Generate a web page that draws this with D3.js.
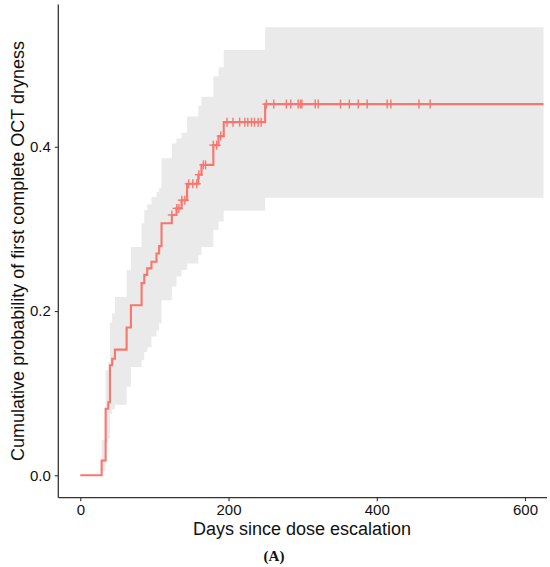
<!DOCTYPE html>
<html>
<head>
<meta charset="utf-8">
<script src="https://cdn.jsdelivr.net/npm/d3@7"></script>
<style>
  html, body { margin: 0; padding: 0; background: #ffffff; }
  svg { display: block; }
</style>
</head>
<body>
<div id="chart"></div>
<script>
// ---- data ----
const stepDays = [0, 28.8, 34.2, 37.7, 40, 43, 46.7, 62.5, 68.3, 82.7, 86.3, 90.3, 96, 102.8, 106.4,
                  109.6, 123.5, 129.8, 136.6, 144.1, 159.2, 163.5, 179.5, 186.5, 193.5, 249.4];
const cumProb  = [0, 0.018, 0.081, 0.089, 0.134, 0.142, 0.153, 0.180, 0.207, 0.234, 0.244, 0.252, 0.260, 0.270, 0.279,
                  0.307, 0.317, 0.325, 0.335, 0.355, 0.366, 0.378, 0.402, 0.413, 0.430, 0.452];
const lowerCI  = [0, 0.005, 0.040, 0.045, 0.075, 0.080, 0.086, 0.108, 0.132, 0.140, 0.150, 0.156, 0.169, 0.176, 0.185,
                  0.213, 0.230, 0.242, 0.250, 0.258, 0.268, 0.278, 0.299, 0.309, 0.322, 0.338];
const upperCI  = [0, 0.043, 0.128, 0.138, 0.186, 0.197, 0.217, 0.250, 0.278, 0.307, 0.323, 0.330, 0.339, 0.345, 0.350,
                  0.386, 0.404, 0.410, 0.417, 0.437, 0.450, 0.461, 0.486, 0.497, 0.518, 0.5455];
const censorDays = [123.5, 130, 133, 137, 141, 146.4, 151.8, 157.2, 160, 166, 169, 179.5, 184, 189.5,
                    198, 206, 215, 222, 226, 231, 235, 240, 244,
                    251, 261, 278, 284, 294, 297, 299, 317, 321, 351, 363, 375, 387, 414, 419, 457, 472];
const endDay = 625;
const xTicks = [0, 200, 400, 600];
const yTicks = [0, 0.2, 0.4];
const xTitle = "Days since dose escalation";
const yTitle = "Cumulative probability of first complete OCT dryness";
const caption = "(A)";

// ---- layout ----
const W = 550, H = 567;
const lineColor = "#F8766D";
const axisColor = "#333333";

const x = d3.scaleLinear().domain([0, 600]).range([80.3, 525]);
const y = d3.scaleLinear().domain([0, 0.4]).range([475.3, 146.8]);

const panelLeft = 58.3, panelRight = 547, panelTop = 4.5, panelBottom = 497.7;

const svg = d3.select("#chart").append("svg")
  .attr("width", W).attr("height", H)
  .style("font-family", "'Liberation Sans', Arial, sans-serif");

// step table
const rows = stepDays.map((d, i) => ({ t: d, s: cumProb[i], lo: lowerCI[i], hi: upperCI[i] }));
const last = rows[rows.length - 1];
const rowsEnd = rows.concat([{ t: endDay, s: last.s, lo: last.lo, hi: last.hi }]);

// confidence band
const area = d3.area()
  .curve(d3.curveStepAfter)
  .x(d => x(d.t))
  .y0(d => y(d.lo))
  .y1(d => y(d.hi));
svg.append("path")
  .datum(rowsEnd.slice(1))
  .attr("d", area)
  .attr("fill", "#EAEAEA")
  .attr("stroke", "none");

// KM line
const line = d3.line()
  .curve(d3.curveStepAfter)
  .x(d => x(d.t))
  .y(d => y(d.s));
svg.append("path")
  .datum(rowsEnd)
  .attr("d", line)
  .attr("fill", "none")
  .attr("stroke", lineColor)
  .attr("stroke-width", 2.1);

// censor marks
function survAt(t) {
  let v = 0;
  for (const r of rows) { if (r.t <= t) v = r.s; }
  return v;
}
const cg = svg.append("g").attr("stroke", lineColor).attr("stroke-width", 1.4);
censorDays.forEach(t => {
  const cx = x(t), cy = y(survAt(t));
  cg.append("line").attr("x1", cx - 4).attr("x2", cx + 4).attr("y1", cy).attr("y2", cy);
  cg.append("line").attr("x1", cx).attr("x2", cx).attr("y1", cy - 4.5).attr("y2", cy + 4.5);
});

// axes
const xAxis = svg.append("g")
  .attr("transform", `translate(0,${panelBottom})`)
  .call(d3.axisBottom(x).tickValues(xTicks).tickSize(3.5).tickPadding(3).tickFormat(d3.format("d")));
xAxis.select(".domain").remove();
xAxis.selectAll(".tick line").attr("stroke", axisColor).attr("stroke-width", 1.1);
xAxis.selectAll(".tick text").attr("fill", "#111").style("font-size", "15px")
  .style("font-family", "'Liberation Sans', Arial, sans-serif");

const yAxis = svg.append("g")
  .attr("transform", `translate(${panelLeft},0)`)
  .call(d3.axisLeft(y).tickValues(yTicks).tickSize(3.5).tickPadding(4).tickFormat(d3.format(".1f")));
yAxis.select(".domain").remove();
yAxis.selectAll(".tick line").attr("stroke", axisColor).attr("stroke-width", 1.1);
yAxis.selectAll(".tick text").attr("fill", "#111").style("font-size", "15px")
  .style("font-family", "'Liberation Sans', Arial, sans-serif");

svg.append("line")
  .attr("x1", panelLeft).attr("x2", panelRight)
  .attr("y1", panelBottom).attr("y2", panelBottom)
  .attr("stroke", axisColor).attr("stroke-width", 1.3);
svg.append("line")
  .attr("x1", panelLeft).attr("x2", panelLeft)
  .attr("y1", panelTop).attr("y2", panelBottom)
  .attr("stroke", axisColor).attr("stroke-width", 1.3);

// titles
svg.append("text")
  .attr("x", 302).attr("y", 535)
  .attr("text-anchor", "middle")
  .attr("fill", "#111")
  .style("font-size", "18px")
  .text(xTitle);

svg.append("text")
  .attr("transform", "translate(24,251) rotate(-90)")
  .attr("text-anchor", "middle")
  .attr("fill", "#111")
  .style("font-size", "18px")
  .text(yTitle);

svg.append("text")
  .attr("x", 274).attr("y", 561)
  .attr("text-anchor", "middle")
  .attr("fill", "#111")
  .style("font-family", "'Liberation Serif', 'Times New Roman', serif")
  .style("font-weight", "bold")
  .style("font-size", "15px")
  .text(caption);
</script>
</body>
</html>
